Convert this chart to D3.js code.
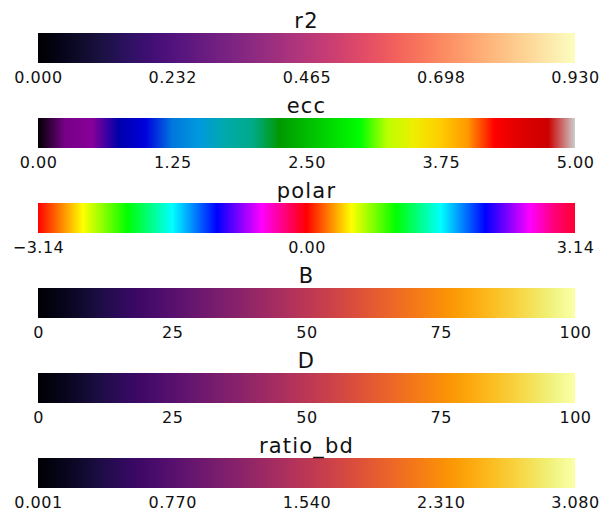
<!DOCTYPE html>
<html><head><meta charset="utf-8">
<script src="https://cdn.jsdelivr.net/npm/d3@7"></script>
<style>body{margin:0;background:#fff}svg{display:block}</style>
</head><body>
<script>
// ---- data ----
const titles = ["r2", "ecc", "polar", "B", "D", "ratio_bd"];
const domains = [[0, 0.93], [0, 5], [-3.14159, 3.14159], [0, 100], [0, 100], [0.001, 3.080]];
const tickValues = [
  [0, 0.2325, 0.465, 0.6975, 0.93],
  [0, 1.25, 2.5, 3.75, 5],
  [-3.14159, 0, 3.14159],
  [0, 25, 50, 75, 100],
  [0, 25, 50, 75, 100],
  [0.001, 0.77075, 1.5405, 2.31025, 3.080]
];
const tickLabels = [
  ["0.000", "0.232", "0.465", "0.698", "0.930"],
  ["0.00", "1.25", "2.50", "3.75", "5.00"],
  ["\u22123.14", "0.00", "3.14"],
  ["0", "25", "50", "75", "100"],
  ["0", "25", "50", "75", "100"],
  ["0.001", "0.770", "1.540", "2.310", "3.080"]
];
const cmapNames = ["magma", "nipy_spectral", "hsv2", "inferno", "inferno", "inferno"];

// nipy_spectral colormap anchor table (matplotlib)
const nipyPos = d3.range(21).map(i => i / 20);
const nipyR = [0,.4667,.5333,0,0,0,0,0,0,0,0,0,0,.7333,.9333,1,1,1,.8667,.8,.8];
const nipyG = [0,0,0,0,0,.4667,.6,.6667,.6667,.6,.7333,.8667,1,1,.9333,.8,.6,0,0,0,.8];
const nipyB = [0,.5333,.6,.6667,.8667,.8667,.8667,.6667,.5333,0,0,0,0,0,0,0,0,0,0,0,.8];

// ---- layout ----
const W = 611, H = 521;
const x0 = 38, x1 = 575, barH = 30, top0 = 33, step = 85;

const svg = d3.select("body").append("svg").attr("width", W).attr("height", H);
const defs = svg.append("defs");

const nipyScale = d3.scaleLinear().domain(nipyPos)
  .range(nipyPos.map((p, i) => d3.rgb(nipyR[i]*255, nipyG[i]*255, nipyB[i]*255).toString()))
  .interpolate(d3.interpolateRgb);

function stopsFor(name) {
  if (name === "nipy_spectral") return nipyPos.map(t => [t, nipyScale(t)]);
  if (name === "hsv2") {
    return d3.range(25).map(i => {
      const t = i / 24;
      let h = (t * 2 % 1) * 360;
      if (i === 24) h = 349;
      if (i === 12) h = 0;
      return [t, d3.hsl(h, 1, 0.5).formatRgb()];
    });
  }
  const interp = name === "magma" ? d3.interpolateMagma : d3.interpolateInferno;
  return d3.range(65).map(i => [i / 64, interp(i / 64)]);
}

const font = "'DejaVu Sans', sans-serif";

titles.forEach((title, i) => {
  const y = top0 + step * i;
  const xs = d3.scaleLinear().domain(domains[i]).range([x0, x1]);
  const gid = "grad" + i;
  const g = defs.append("linearGradient").attr("id", gid)
    .attr("x1", "0%").attr("x2", "100%").attr("y1", "0%").attr("y2", "0%");
  stopsFor(cmapNames[i]).forEach(([t, c]) => {
    g.append("stop").attr("offset", (t * 100) + "%").attr("stop-color", c);
  });
  svg.append("rect")
    .attr("x", xs(domains[i][0])).attr("y", y)
    .attr("width", xs(domains[i][1]) - xs(domains[i][0])).attr("height", barH)
    .attr("fill", `url(#${gid})`);

  svg.append("text")
    .attr("x", (x0 + x1) / 2).attr("y", y - 5)
    .attr("text-anchor", "middle")
    .attr("font-family", font).attr("font-size", 21).attr("fill", "#111")
    .attr("letter-spacing", "1.2px")
    .text(title);

  const axis = d3.axisBottom(xs).tickValues(tickValues[i])
    .tickFormat((d, k) => tickLabels[i][k]).tickSize(0).tickPadding(0);
  const ag = svg.append("g").attr("transform", `translate(0,${y + barH})`).call(axis);
  ag.select(".domain").remove();
  ag.selectAll("text")
    .attr("dy", null).attr("y", 20)
    .attr("font-family", font).attr("font-size", 16).attr("fill", "#111")
    .attr("letter-spacing", "0.5px");
});
</script>
</body></html>
